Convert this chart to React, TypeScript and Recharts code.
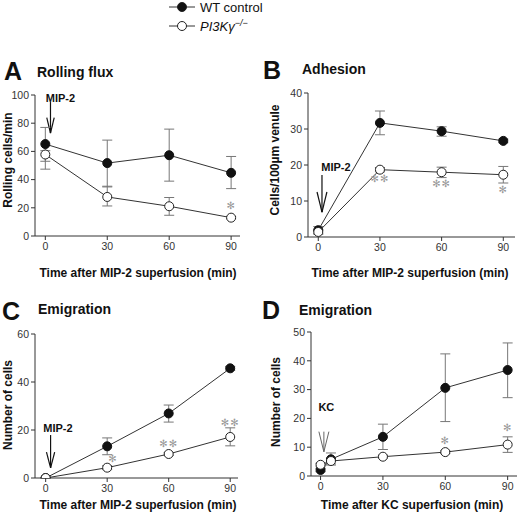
import React from "react";
import {
  LineChart,
  Line,
  XAxis,
  YAxis,
  ErrorBar,
  ReferenceLine,
  ReferenceDot,
} from "recharts";

// time points (min)
const TIME = [0, 30, 60, 90];
const TIME_KC = [0, 5, 30, 60, 90];
const X_TICKS = [0, 30, 60, 90];

// A - rolling flux (cells/min)
const rollWT = [65.2, 51.7, 57.3, 44.8];
const rollWTLow = [53.0, 34.8, 38.9, 33.6];
const rollWTHigh = [77.0, 68.0, 75.8, 56.4];
const rollKO = [57.8, 27.7, 21.1, 13.0];
const rollKOLow = [47.4, 21.3, 14.7, 12.2];
const rollKOHigh = [60.5, 35.3, 27.3, 13.8];

// B - adhesion (cells/100um venule)
const adhWT = [1.9, 31.7, 29.4, 26.7];
const adhWTLow = [0.9, 28.4, 28.0, 26.2];
const adhWTHigh = [2.9, 35.0, 30.6, 27.2];
const adhKO = [1.4, 18.7, 18.0, 17.3];
const adhKOLow = [0.8, 18.1, 16.5, 15.0];
const adhKOHigh = [2.0, 19.3, 19.4, 19.6];

// C - emigration after MIP-2
const emWT = [0, 13.2, 26.9, 45.7];
const emWTLow = [0, 9.7, 23.3, 44.9];
const emWTHigh = [0, 16.7, 30.4, 46.5];
const emKO = [0, 4.3, 10.0, 17.1];
const emKOLow = [0, 3.5, 9.4, 13.4];
const emKOHigh = [0, 5.1, 10.6, 20.9];

// D - emigration after KC
const kcWT = [2.1, 5.8, 13.6, 30.6, 36.8];
const kcWTLow = [1.5, 3.8, 9.2, 18.9, 27.2];
const kcWTHigh = [2.7, 8.0, 18.0, 42.4, 46.2];
const kcKO = [3.9, 5.2, 6.7, 8.3, 10.9];
const kcKOLow = [3.4, 4.2, 6.2, 7.8, 8.2];
const kcKOHigh = [4.4, 6.2, 7.2, 8.8, 13.6];

const FONT = "'Liberation Sans', Arial, sans-serif";

function buildRows(t, wt, wtLo, wtHi, ko, koLo, koHi) {
  return t.map((x, i) => ({
    t: x,
    wt: wt[i],
    wtErr: [wt[i] - wtLo[i], wtHi[i] - wt[i]],
    ko: ko[i],
    koErr: [ko[i] - koLo[i], koHi[i] - ko[i]],
  }));
}

type Note = { x: number; y: number; text: string };
type Arrow = { x: number; tip: number; head: number; top: number; half: number; color: string; sw: number };

type PanelProps = {
  rows: any[];
  left: number;
  plot: [number, number, number, number];
  xDomain: [number, number];
  yDomain: [number, number];
  yTicks: number[];
  arrow: Arrow;
  arrowLabel: Note;
  stars: Note[];
};

function Panel({ rows, left, plot, xDomain, yDomain, yTicks, arrow, arrowLabel, stars }: PanelProps) {
  const [x1, y1, x2, y2] = plot;
  const top = y1 - 10;
  const width = x2 - left + 4;
  const height = y2 - top + 30;
  const tick = { fill: "#333", fontSize: 10.5, fontFamily: FONT };
  return (
    <div style={{ position: "absolute", left, top }}>
      <LineChart
        width={width}
        height={height}
        data={rows}
        margin={{ top: 10, right: 4, bottom: 10, left: x1 - left - 30 }}
      >
        <XAxis
          dataKey="t"
          type="number"
          domain={xDomain}
          ticks={X_TICKS}
          allowDataOverflow
          height={20}
          tickSize={4}
          tickMargin={3}
          stroke="#333"
          tick={tick}
        />
        <YAxis
          type="number"
          domain={yDomain}
          ticks={yTicks}
          allowDataOverflow
          width={30}
          tickSize={4}
          tickMargin={2}
          stroke="#333"
          tick={tick}
        />
        <ReferenceLine
          segment={[{ x: arrow.x, y: arrow.top }, { x: arrow.x, y: arrow.tip }]}
          stroke={arrow.color}
          strokeWidth={arrow.sw}
        />
        <ReferenceLine
          segment={[{ x: arrow.x - arrow.half, y: arrow.head }, { x: arrow.x, y: arrow.tip }]}
          stroke={arrow.color}
          strokeWidth={arrow.sw}
        />
        <ReferenceLine
          segment={[{ x: arrow.x + arrow.half, y: arrow.head }, { x: arrow.x, y: arrow.tip }]}
          stroke={arrow.color}
          strokeWidth={arrow.sw}
        />
        <ReferenceDot
          x={arrowLabel.x}
          y={arrowLabel.y}
          r={0}
          fill="none"
          stroke="none"
          label={{
            value: arrowLabel.text,
            position: "center",
            fill: "#111",
            fontSize: 11,
            fontWeight: "bold",
            fontFamily: FONT,
          }}
        />
        <Line
          dataKey="wt"
          stroke="#333"
          strokeWidth={1}
          isAnimationActive={false}
          dot={{ r: 4.5, fill: "#111", stroke: "#111", strokeWidth: 1 }}
        >
          <ErrorBar dataKey="wtErr" direction="y" width={5} stroke="#777" strokeWidth={1} />
        </Line>
        <Line
          dataKey="ko"
          stroke="#333"
          strokeWidth={1}
          isAnimationActive={false}
          dot={{ r: 4.5, fill: "#fff", stroke: "#222", strokeWidth: 1 }}
        >
          <ErrorBar dataKey="koErr" direction="y" width={5} stroke="#777" strokeWidth={1} />
        </Line>
        {stars.map((s, i) => (
          <ReferenceDot
            key={i}
            x={s.x}
            y={s.y}
            r={0}
            fill="none"
            stroke="none"
            label={{
              value: s.text,
              position: "center",
              fill: "#9a9a9a",
              fontSize: 10,
              letterSpacing: 1,
              fontFamily: "'DejaVu Sans', sans-serif",
            }}
          />
        ))}
      </LineChart>
    </div>
  );
}

function Txt({ x, y, size, bold = true, children, anchor = "start" }: any) {
  return (
    <div
      style={{
        position: "absolute",
        left: x,
        top: y,
        transform: anchor === "middle" ? "translate(-50%, -50%)" : "translateY(-50%)",
        fontSize: size,
        fontWeight: bold ? "bold" : "normal",
        lineHeight: 1,
        whiteSpace: "nowrap",
        color: "#111",
      }}
    >
      {children}
    </div>
  );
}

function VTxt({ x, y, children }: any) {
  return (
    <div
      style={{
        position: "absolute",
        left: x,
        top: y,
        transform: "translate(-50%, -50%) rotate(-90deg)",
        fontSize: 12,
        fontWeight: "bold",
        lineHeight: 1,
        whiteSpace: "nowrap",
        color: "#111",
      }}
    >
      {children}
    </div>
  );
}

function LegendRow({ y, filled, children }: any) {
  return (
    <div style={{ position: "absolute", left: 166, top: y - 8, height: 16, display: "flex", alignItems: "center" }}>
      <svg width={32} height={16}>
        <line x1={3} y1={8} x2={29} y2={8} stroke="#333" strokeWidth={1} />
        <circle cx={16} cy={8} r={4.5} fill={filled ? "#111" : "#fff"} stroke="#222" strokeWidth={1} />
      </svg>
      <span style={{ fontSize: 13, marginLeft: 2, lineHeight: 1, color: "#111" }}>{children}</span>
    </div>
  );
}

export default function App() {
  const rowsA = buildRows(TIME, rollWT, rollWTLow, rollWTHigh, rollKO, rollKOLow, rollKOHigh);
  const rowsB = buildRows(TIME, adhWT, adhWTLow, adhWTHigh, adhKO, adhKOLow, adhKOHigh);
  const rowsC = buildRows(TIME, emWT, emWTLow, emWTHigh, emKO, emKOLow, emKOHigh);
  const rowsD = buildRows(TIME_KC, kcWT, kcWTLow, kcWTHigh, kcKO, kcKOLow, kcKOHigh);

  return (
    <div
      style={{
        position: "absolute",
        left: 0,
        top: 0,
        width: 520,
        height: 521,
        background: "#fff",
        fontFamily: FONT,
        overflow: "hidden",
      }}
    >
      <LegendRow y={7} filled>
        WT control
      </LegendRow>
      <LegendRow y={26} filled={false}>
        <i>
          PI3Kγ<sup style={{ fontSize: 9 }}>−/−</sup>
        </i>
      </LegendRow>

      <Txt x={4} y={71} size={25}>A</Txt>
      <Txt x={37} y={72} size={14}>Rolling flux</Txt>
      <Txt x={263} y={70} size={25}>B</Txt>
      <Txt x={302} y={69} size={14}>Adhesion</Txt>
      <Txt x={2} y={311} size={25}>C</Txt>
      <Txt x={38} y={309} size={14}>Emigration</Txt>
      <Txt x={262} y={310} size={25}>D</Txt>
      <Txt x={299} y={310} size={14}>Emigration</Txt>

      <VTxt x={8} y={160}>Rolling cells/min</VTxt>
      <VTxt x={275} y={160}>Cells/100µm venule</VTxt>
      <VTxt x={8} y={405}>Number of cells</VTxt>
      <VTxt x={276} y={402}>Number of cells</VTxt>

      <Panel
        rows={rowsA}
        left={0}
        plot={[35, 95, 240, 236]}
        xDomain={[-5.0, 94.3]}
        yDomain={[0, 100]}
        yTicks={[0, 20, 40, 60, 80, 100]}
        arrow={{ x: 2.5, tip: 73, head: 84, top: 95, half: 1.8, color: "#111", sw: 1.2 }}
        arrowLabel={{ x: 7.3, y: 97.5, text: "MIP-2" }}
        stars={[{ x: 90, y: 22, text: "✻" }]}
      />
      <Panel
        rows={rowsB}
        left={262}
        plot={[308, 93, 515, 237]}
        xDomain={[-5.0, 95.7]}
        yDomain={[0, 40]}
        yTicks={[0, 10, 20, 30, 40]}
        arrow={{ x: 1.8, tip: 6.9, head: 12.5, top: 17.2, half: 2.4, color: "#111", sw: 1.2 }}
        arrowLabel={{ x: 8.6, y: 19.4, text: "MIP-2" }}
        stars={[
          { x: 30, y: 16.4, text: "✻✻" },
          { x: 60, y: 15, text: "✻✻" },
          { x: 90, y: 13.3, text: "✻" },
        ]}
      />
      <Panel
        rows={rowsC}
        left={0}
        plot={[35, 334, 238, 478]}
        xDomain={[-5.2, 93.8]}
        yDomain={[0, 60]}
        yTicks={[0, 20, 40, 60]}
        arrow={{ x: 2.4, tip: 4.2, head: 10.8, top: 17.9, half: 2.0, color: "#111", sw: 1.2 }}
        arrowLabel={{ x: 6.0, y: 20.8, text: "MIP-2" }}
        stars={[
          { x: 32.8, y: 8.3, text: "✻" },
          { x: 60, y: 14.6, text: "✻✻" },
          { x: 90, y: 23.3, text: "✻✻" },
        ]}
      />
      <Panel
        rows={rowsD}
        left={262}
        plot={[311, 332, 517, 476]}
        xDomain={[-4.6, 94.5]}
        yDomain={[0, 50]}
        yTicks={[0, 10, 20, 30, 40, 50]}
        arrow={{ x: 1.6, tip: 8.4, head: 15.4, top: 15.4, half: 2.4, color: "#666", sw: 1 }}
        arrowLabel={{ x: 2.8, y: 24, text: "KC" }}
        stars={[
          { x: 60, y: 12.2, text: "✻" },
          { x: 90, y: 16.7, text: "✻" },
        ]}
      />

      <Txt x={138} y={273} size={12} anchor="middle">Time after MIP-2 superfusion (min)</Txt>
      <Txt x={410} y={273} size={12} anchor="middle">Time after MIP-2 superfusion (min)</Txt>
      <Txt x={138} y={505} size={12} anchor="middle">Time after MIP-2 superfusion (min)</Txt>
      <Txt x={412} y={505} size={12} anchor="middle">Time after KC superfusion (min)</Txt>
    </div>
  );
}
